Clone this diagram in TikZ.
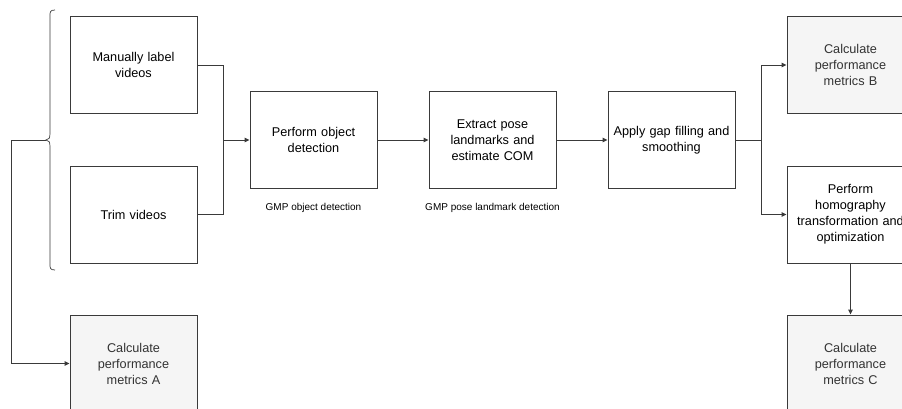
\documentclass[tikz,border=0pt]{standalone}
\usepackage{fontspec}
\setmainfont{Liberation Sans}
\usetikzlibrary{arrows.meta}
\definecolor{linegray}{HTML}{3A3A3A}
\definecolor{metricfill}{HTML}{F5F5F5}
\definecolor{metrictext}{HTML}{333333}
\tikzset{
  stepbox/.style={draw=linegray, line width=0.9pt, fill=white, minimum width=127pt, minimum height=97pt,
    inner sep=0pt, align=center, font=\fontsize{12.7}{16}\selectfont, text width=125pt},
  metricbox/.style={stepbox, fill=metricfill, text=metrictext},
  conn/.style={draw=linegray, line width=0.9pt},
  arr/.style={conn, -{Triangle[length=5pt,width=4.5pt]}},
  note/.style={font=\fontsize{10}{12}\selectfont, inner sep=0pt}
}
\begin{document}
\begin{tikzpicture}[x=1pt,y=-1pt]
\useasboundingbox (0,0) rectangle (902,409);
\clip (0,0) rectangle (902,409);

% input steps
\node[stepbox] (label) at (133.5,65) {Manually label\\videos};
\node[stepbox] (trim)  at (133.5,214.5) {Trim videos};

% processing chain
\node[stepbox] (detect) at (313.5,140) {Perform object\\detection};
\node[stepbox] (pose)   at (492.5,140) {Extract pose\\landmarks and\\estimate COM};
\node[stepbox] (gap)    at (671.5,140) {Apply gap filling and\\smoothing};
\node[stepbox] (homo)   at (850.5,214.5) {Perform\\homography\\transformation and\\optimization};

% metric boxes
\node[metricbox] (mA) at (133.5,363.5) {Calculate\\performance\\metrics A};
\node[metricbox] (mB) at (850.5,65) {Calculate\\performance\\metrics B};
\node[metricbox] (mC) at (850.5,363.5) {Calculate\\performance\\metrics C};

% notes under the boxes
\node[note] (n1) at (313.5,208) {GMP object detection};
\node[note] (n2) at (492.5,208) {GMP pose landmark detection};

% curly brace grouping the inputs
\coordinate (btip) at (46,140);
\draw[conn, line width=0.7pt] (55,10) .. controls (50,10) and (50,12) .. (50,16)
  -- (50,133) .. controls (50,138) and (49,140) .. (btip)
  .. controls (49,140) and (50,142) .. (50,147)
  -- (50,264) .. controls (50,268) and (50,270) .. (55,270);

% connectors
\coordinate (join) at (223,140);
\draw[conn] (label.east) -| (join);
\draw[conn] (trim.east) -| (join);
\draw[arr] (join) -- (detect.west);
\draw[arr] (detect.east) -- (pose.west);
\draw[arr] (pose.east) -- (gap.west);
\coordinate (split) at (761,140);
\draw[conn] (gap.east) -- (split);
\draw[arr] (split) |- (mB.west);
\draw[arr] (split) |- (homo.west);
\draw[arr] (homo.south) -- (mC.north);
\draw[arr] (btip) -- (11,140) |- (mA.west);
\end{tikzpicture}
\end{document}
